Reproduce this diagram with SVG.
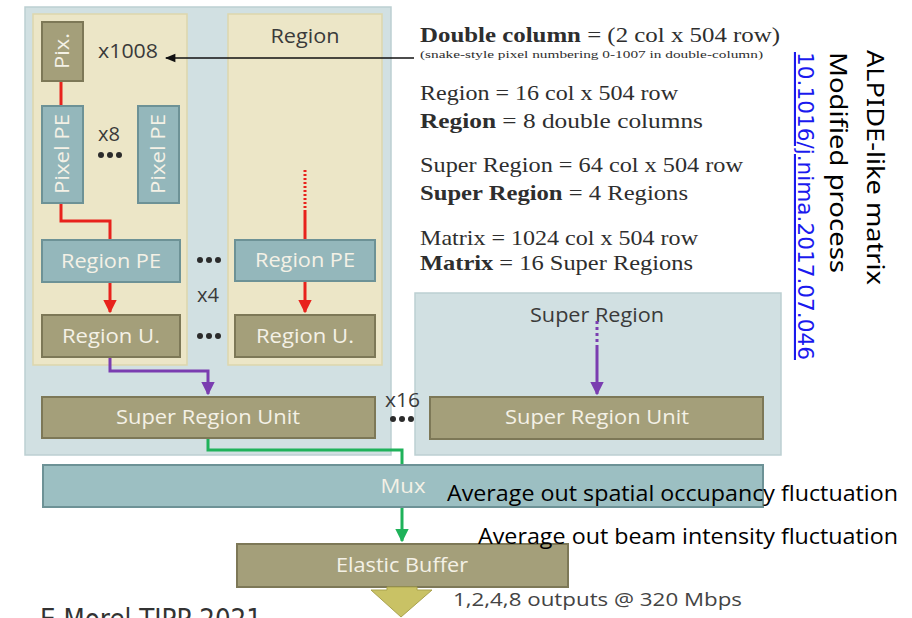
<svg xmlns="http://www.w3.org/2000/svg" width="912" height="618" viewBox="0 0 912 618">
  <defs>
    <style>
      .sr { fill: #d1e0e2; stroke: #bccfd2; stroke-width: 1.5; }
      .reg { fill: #ece6c7; stroke: #ddd6ad; stroke-width: 1.5; }
      .olive { fill: #a49f7a; stroke: #7d7857; stroke-width: 2; }
      .teal { fill: #94b7bb; stroke: #6d9296; stroke-width: 2; }
      .lbl { font-family: "Open Sans", "Noto Sans", sans-serif; fill: #f4f1e6; font-size: 20px; text-anchor: middle; }
      .dark { font-family: "Open Sans", "Noto Sans", sans-serif; fill: #3a3a3a; font-size: 20px; }
      .dots { fill: #2b2b2b; }
      .serif { font-family: "Liberation Serif", "DejaVu Serif", serif; fill: #2e2e2e; font-size: 21px; }
      .side { font-family: "Noto Sans", "Open Sans", sans-serif; fill: #000; font-size: 24px; }
      .note { font-family: "Open Sans", "Noto Sans", sans-serif; fill: #000; font-size: 21px; }
      .red { stroke: #e8221c; stroke-width: 3; fill: none; }
      .purple { stroke: #7a3db0; stroke-width: 3; fill: none; }
      .green { stroke: #1fb25a; stroke-width: 3; fill: none; }
    </style>
    <marker id="ah-red" viewBox="0 0 10 10" refX="9" refY="5" markerWidth="4.5" markerHeight="4.5" orient="auto" markerUnits="strokeWidth">
      <path d="M0,0 L10,5 L0,10 z" fill="#e8221c"/>
    </marker>
    <marker id="ah-purple" viewBox="0 0 10 10" refX="9" refY="5" markerWidth="4.5" markerHeight="4.5" orient="auto" markerUnits="strokeWidth">
      <path d="M0,0 L10,5 L0,10 z" fill="#7a3db0"/>
    </marker>
    <marker id="ah-green" viewBox="0 0 10 10" refX="9" refY="5" markerWidth="4.5" markerHeight="4.5" orient="auto" markerUnits="strokeWidth">
      <path d="M0,0 L10,5 L0,10 z" fill="#1fb25a"/>
    </marker>
    <marker id="ah-black" viewBox="0 0 10 10" refX="9" refY="5" markerWidth="10" markerHeight="8" orient="auto" markerUnits="strokeWidth">
      <path d="M0,1 L10,5 L0,9 z" fill="#111"/>
    </marker>
  </defs>

  <rect width="912" height="618" fill="#ffffff"/>

  <!-- super region containers -->
  <g id="super-region-left">
    <rect class="sr" x="25" y="7" width="366" height="448"/>
  </g>
  <g id="super-region-right">
    <rect class="sr" x="415" y="293" width="366" height="162"/>
    <text class="dark" x="597" y="322" text-anchor="middle" textLength="134" lengthAdjust="spacingAndGlyphs">Super Region</text>
  </g>

  <!-- regions -->
  <g id="region-left">
    <rect class="reg" x="33" y="14" width="154" height="351"/>
  </g>
  <g id="region-right">
    <rect class="reg" x="228" y="14" width="154" height="351"/>
    <text class="dark" x="305" y="43" text-anchor="middle" textLength="69" lengthAdjust="spacingAndGlyphs">Region</text>
  </g>

  <!-- connectors -->
  <g id="connectors">
    <line x1="414" y1="58" x2="166" y2="58" stroke="#111" stroke-width="1.3" marker-end="url(#ah-black)"/>
    <path class="red" d="M61,81 V106"/>
    <path class="red" d="M61,203 V221 H110 V240"/>
    <path class="red" d="M110,282 V312" marker-end="url(#ah-red)"/>
    <path class="red" d="M305,170 V210" stroke-dasharray="2 2"/>
    <path class="red" d="M305,210 V240"/>
    <path class="red" d="M305,280 V312" marker-end="url(#ah-red)"/>
    <path class="purple" d="M110,357 V371 H208 V394" marker-end="url(#ah-purple)"/>
    <path class="purple" d="M597,321 V345" stroke-dasharray="3 3"/>
    <path class="purple" d="M597,345 V394" marker-end="url(#ah-purple)"/>
    <path class="green" d="M208,438 V450 H402 V465"/>
    <path class="green" d="M402,507 V541" marker-end="url(#ah-green)"/>
  </g>

  <!-- pixel level -->
  <g id="pix">
    <rect class="olive" x="42" y="22" width="41" height="59"/>
    <text class="lbl" transform="translate(69,51) rotate(-90)" textLength="36" lengthAdjust="spacingAndGlyphs">Pix.</text>
  </g>
  <g id="x1008">
    <text class="dark" x="98" y="58" textLength="60" lengthAdjust="spacingAndGlyphs">x1008</text>
  </g>
  <g id="pixel-pe-1">
    <rect class="teal" x="42" y="106" width="41" height="97"/>
    <text class="lbl" transform="translate(69,154) rotate(-90)" textLength="80" lengthAdjust="spacingAndGlyphs">Pixel PE</text>
  </g>
  <g id="pixel-pe-2">
    <rect class="teal" x="138" y="106" width="41" height="97"/>
    <text class="lbl" transform="translate(165,154) rotate(-90)" textLength="80" lengthAdjust="spacingAndGlyphs">Pixel PE</text>
  </g>
  <g id="x8">
    <text class="dark" x="98" y="141" textLength="22" lengthAdjust="spacingAndGlyphs">x8</text>
    <circle class="dots" cx="101" cy="155" r="3"/>
    <circle class="dots" cx="110" cy="155" r="3"/>
    <circle class="dots" cx="119" cy="155" r="3"/>
  </g>

  <!-- region level -->
  <g id="region-pe-left">
    <rect class="teal" x="42" y="240" width="138" height="42"/>
    <text class="lbl" x="111" y="268" textLength="100" lengthAdjust="spacingAndGlyphs">Region PE</text>
  </g>
  <g id="region-pe-right">
    <rect class="teal" x="235" y="240" width="140" height="41"/>
    <text class="lbl" x="305" y="267" textLength="100" lengthAdjust="spacingAndGlyphs">Region PE</text>
  </g>
  <g id="region-u-left">
    <rect class="olive" x="42" y="315" width="138" height="42"/>
    <text class="lbl" x="111" y="343" textLength="98" lengthAdjust="spacingAndGlyphs">Region U.</text>
  </g>
  <g id="region-u-right">
    <rect class="olive" x="235" y="315" width="140" height="42"/>
    <text class="lbl" x="305" y="343" textLength="98" lengthAdjust="spacingAndGlyphs">Region U.</text>
  </g>
  <g id="x4">
    <circle class="dots" cx="200" cy="260" r="3"/>
    <circle class="dots" cx="209" cy="260" r="3"/>
    <circle class="dots" cx="218" cy="260" r="3"/>
    <text class="dark" x="197" y="302" textLength="22" lengthAdjust="spacingAndGlyphs">x4</text>
    <circle class="dots" cx="200" cy="336" r="3"/>
    <circle class="dots" cx="209" cy="336" r="3"/>
    <circle class="dots" cx="218" cy="336" r="3"/>
  </g>

  <!-- super region units -->
  <g id="sru-left">
    <rect class="olive" x="42" y="397" width="333" height="41"/>
    <text class="lbl" x="208" y="424" textLength="184" lengthAdjust="spacingAndGlyphs">Super Region Unit</text>
  </g>
  <g id="sru-right">
    <rect class="olive" x="430" y="397" width="333" height="42"/>
    <text class="lbl" x="597" y="424" textLength="184" lengthAdjust="spacingAndGlyphs">Super Region Unit</text>
  </g>
  <g id="x16">
    <text class="dark" x="385" y="407" textLength="35" lengthAdjust="spacingAndGlyphs">x16</text>
    <circle class="dots" cx="393" cy="419" r="3"/>
    <circle class="dots" cx="402" cy="419" r="3"/>
    <circle class="dots" cx="411" cy="419" r="3"/>
  </g>

  <!-- readout -->
  <g id="mux">
    <rect class="teal" x="43" y="465" width="720" height="42" style="fill:#9cbfc2"/>
    <text class="lbl" x="403" y="493" textLength="45" lengthAdjust="spacingAndGlyphs">Mux</text>
  </g>
  <g id="elastic-buffer">
    <rect class="olive" x="237" y="544" width="331" height="43"/>
    <text class="lbl" x="402" y="572" textLength="132" lengthAdjust="spacingAndGlyphs">Elastic Buffer</text>
  </g>
  <g id="output-arrow">
    <path d="M387,587 H417 V590 H432 L401,617 L371,590 H387 Z" fill="#c9c265" stroke="#a9a24d" stroke-width="1"/>
    <text x="453" y="606" font-family="Open Sans, Noto Sans, sans-serif" font-size="19" fill="#444" textLength="289" lengthAdjust="spacingAndGlyphs">1,2,4,8 outputs @ 320 Mbps</text>
  </g>

  <!-- annotations -->
  <g id="notes">
    <text class="note" x="447" y="501" textLength="451" lengthAdjust="spacingAndGlyphs">Average out spatial occupancy fluctuation</text>
    <text class="note" x="478" y="544" textLength="420" lengthAdjust="spacingAndGlyphs">Average out beam intensity fluctuation</text>
    <text x="40" y="629" font-family="DejaVu Sans, sans-serif" font-size="28" fill="#333" textLength="222" lengthAdjust="spacingAndGlyphs">E.Morel TIPP 2021</text>
  </g>

  <!-- definitions -->
  <g id="definitions" class="serif">
    <text x="420" y="42" textLength="360" lengthAdjust="spacingAndGlyphs"><tspan font-weight="bold">Double column</tspan> = (2 col x 504 row)</text>
    <text x="420" y="58" font-size="11" textLength="343" lengthAdjust="spacingAndGlyphs">(snake-style pixel numbering 0-1007 in double-column)</text>
    <text x="420" y="100" textLength="258" lengthAdjust="spacingAndGlyphs">Region = 16 col x 504 row</text>
    <text x="420" y="128" textLength="283" lengthAdjust="spacingAndGlyphs"><tspan font-weight="bold">Region</tspan> = 8 double columns</text>
    <text x="420" y="172" textLength="323" lengthAdjust="spacingAndGlyphs">Super Region = 64 col x 504 row</text>
    <text x="420" y="200" textLength="268" lengthAdjust="spacingAndGlyphs"><tspan font-weight="bold">Super Region</tspan> = 4 Regions</text>
    <text x="420" y="245" textLength="278" lengthAdjust="spacingAndGlyphs">Matrix = 1024 col x 504 row</text>
    <text x="420" y="270" textLength="273" lengthAdjust="spacingAndGlyphs"><tspan font-weight="bold">Matrix</tspan> = 16 Super Regions</text>
  </g>

  <!-- side captions -->
  <g id="side-captions">
    <text class="side" transform="translate(867,50) rotate(90)" textLength="235" lengthAdjust="spacingAndGlyphs">ALPIDE-like matrix</text>
    <text class="side" transform="translate(830,52) rotate(90)" textLength="221" lengthAdjust="spacingAndGlyphs">Modified process</text>
    <text transform="translate(798,52) rotate(90)" font-family="DejaVu Sans, sans-serif" font-size="21" fill="#1a1aee" text-decoration="underline" textLength="308" lengthAdjust="spacingAndGlyphs">10.1016/j.nima.2017.07.046</text>
  </g>
</svg>
